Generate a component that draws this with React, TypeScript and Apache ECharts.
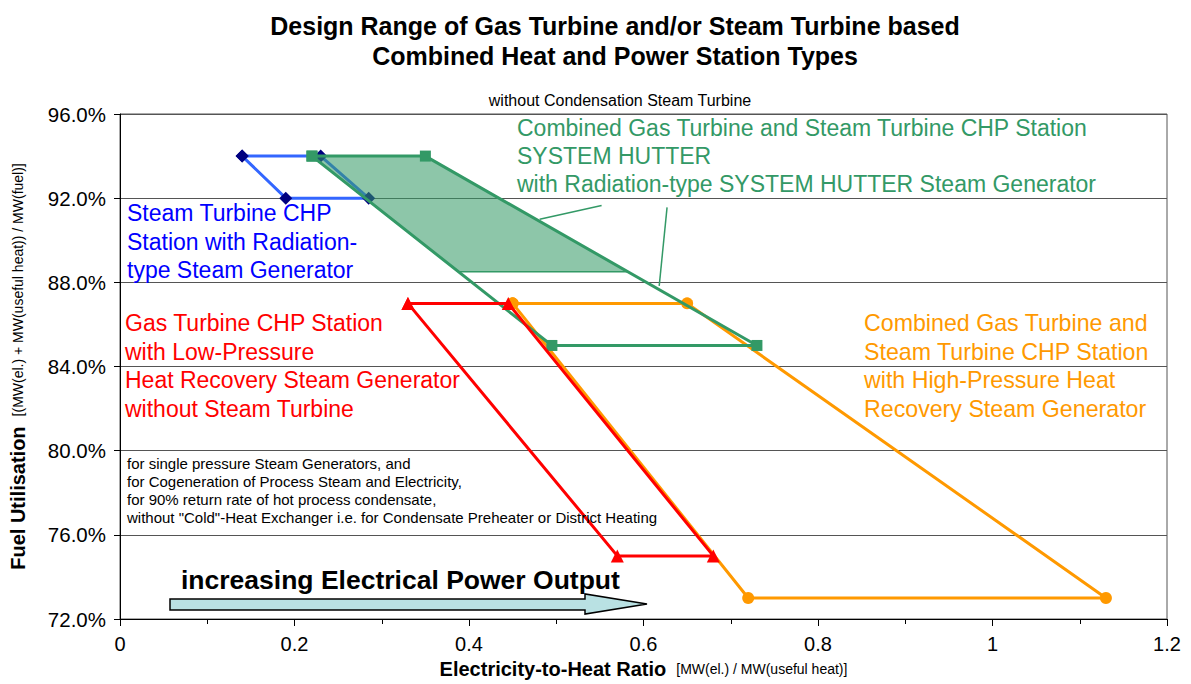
import React, { useEffect, useRef } from "react";
import * as echarts from "echarts";

const FONT = '"Liberation Sans", Arial, Helvetica, sans-serif';

// Steam Turbine CHP Station with Radiation-type Steam Generator
const steamX = [0.14, 0.23, 0.285, 0.19];
const steamY = [94, 94, 92, 92];
// Combined GT + ST CHP Station SYSTEM HUTTER
const hutterX = [0.22, 0.35, 0.73, 0.495];
const hutterY = [94, 94, 85, 85];
// Hatched area of SYSTEM HUTTER
const hutterAreaX = [0.22, 0.35, 0.582, 0.388];
const hutterAreaY = [94, 94, 88.5, 88.5];
// Gas Turbine CHP Station with Low-Pressure HRSG
const gasX = [0.33, 0.445, 0.68, 0.57];
const gasY = [87, 87, 75, 75];
// Combined GT + ST CHP Station with High-Pressure HRSG
const ccX = [0.45, 0.65, 1.13, 0.72];
const ccY = [87, 87, 73, 73];
// leader lines from green label
const leaderLines = [
  [[0.552, 91.65], [0.481, 91.0]],
  [[0.627, 91.56], [0.618, 87.83]],
];

const yTicks = { min: 72, max: 96, interval: 4 };
const xTicks = { min: 0, max: 1.2, interval: 0.2 };

const closed = (xs: number[], ys: number[]) => {
  const pts = xs.map((x, i) => [x, ys[i]]);
  pts.push([xs[0], ys[0]]);
  return pts;
};

const blueText = ["Steam Turbine CHP", "Station with Radiation-", "type Steam Generator"];
const redText = ["Gas Turbine CHP Station", "with Low-Pressure", "Heat Recovery Steam Generator", "without Steam Turbine"];
const orangeText = ["Combined Gas Turbine and", "Steam Turbine CHP Station", "with High-Pressure Heat", "Recovery Steam Generator"];
const greenText = ["Combined Gas Turbine and Steam Turbine CHP Station", "SYSTEM HUTTER", "with Radiation-type SYSTEM HUTTER Steam Generator"];
const noteText = [
  "for single pressure Steam Generators, and",
  "for Cogeneration of Process Steam and Electricity,",
  "for 90% return rate of hot process condensate,",
  'without "Cold"-Heat Exchanger i.e. for Condensate Preheater or District Heating',
];

export default function App() {
  const ref = useRef<HTMLDivElement>(null);
  useEffect(() => {
    if (!ref.current) return;
    const chart = echarts.init(ref.current, undefined, { renderer: "svg" });
    const areaData = hutterAreaX.map((x, i) => [x, hutterAreaY[i]]);
    const txt = (lines: string[], x: number, y: number, fill: string, size: number, lh: number, weight = "normal") => ({
      type: "text",
      x,
      y,
      z: 50,
      silent: true,
      style: {
        text: lines.join("\n"),
        fill,
        fontSize: size,
        fontFamily: FONT,
        fontWeight: weight,
        lineHeight: lh,
        align: "left",
        verticalAlign: "top",
      },
    });
    const nameRich = {
      b: { fontFamily: FONT, fontSize: 20, fontWeight: "bold", color: "#000" },
      s: { fontFamily: FONT, fontSize: 14, color: "#000" },
    };
    chart.setOption({
      animation: false,
      backgroundColor: "#fff",
      title: {
        text: "Design Range of Gas Turbine and/or Steam Turbine based\nCombined Heat and Power Station Types",
        left: 610,
        top: 6,
        textAlign: "center",
        textStyle: { fontFamily: FONT, fontSize: 25, fontWeight: "bold", color: "#000", lineHeight: 30 },
      },
      grid: { left: 120, right: 24, top: 114, bottom: 62, show: true, borderColor: "#555", borderWidth: 1 },
      xAxis: {
        type: "value",
        min: xTicks.min,
        max: xTicks.max,
        interval: xTicks.interval,
        name: "{b|Electricity-to-Heat Ratio}   {s|[MW(el.) / MW(useful heat)]}",
        nameLocation: "middle",
        nameGap: 40,
        nameTextStyle: { rich: nameRich },
        axisLine: { show: true, lineStyle: { color: "#000", width: 1 } },
        axisTick: { show: true, length: 7, lineStyle: { color: "#000" } },
        minorTick: { show: true, splitNumber: 2, length: 5, lineStyle: { color: "#000" } },
        splitLine: { show: false },
        axisLabel: {
          fontFamily: FONT,
          fontSize: 20,
          color: "#000",
          margin: 15,
          formatter: (v: number) => String(Math.round(v * 10) / 10),
        },
      },
      yAxis: {
        type: "value",
        min: yTicks.min,
        max: yTicks.max,
        interval: yTicks.interval,
        name: "{b|Fuel Utilisation}   {s|[(MW(el.) + MW(useful heat)) / MW(fuel)]}",
        nameLocation: "middle",
        nameRotate: 90,
        nameGap: 92,
        nameTextStyle: { rich: nameRich },
        axisLine: { show: true, lineStyle: { color: "#000", width: 1 } },
        axisTick: { show: true, length: 6, lineStyle: { color: "#000" } },
        splitLine: { show: true, lineStyle: { color: "#555", width: 1 } },
        axisLabel: {
          fontFamily: FONT,
          fontSize: 20.5,
          color: "#000",
          margin: 14,
          formatter: (v: number) => v.toFixed(1) + "%",
        },
      },
      series: [
        {
          name: "Steam Turbine CHP",
          type: "line",
          z: 2,
          data: closed(steamX, steamY),
          symbol: "diamond",
          symbolSize: 13,
          lineStyle: { color: "#3366ff", width: 3 },
          itemStyle: { color: "#000080" },
        },
        {
          name: "SYSTEM HUTTER area",
          type: "custom",
          z: 3,
          silent: true,
          data: areaData,
          renderItem: (params: any, api: any) => {
            if (params.dataIndex !== 0) return { type: "group", children: [] };
            return {
              type: "polygon",
              shape: { points: areaData.map((p) => api.coord(p)) },
              style: { fill: "rgba(51,153,102,0.56)", stroke: "#339966", lineWidth: 1.5 },
            };
          },
        },
        {
          name: "Combined HP HRSG",
          type: "line",
          z: 4,
          data: closed(ccX, ccY),
          symbol: "circle",
          symbolSize: 12,
          lineStyle: { color: "#ff9900", width: 3 },
          itemStyle: { color: "#ff9900" },
        },
        {
          name: "SYSTEM HUTTER",
          type: "line",
          z: 5,
          data: closed(hutterX, hutterY),
          symbol: "rect",
          symbolSize: 11,
          lineStyle: { color: "#339966", width: 3 },
          itemStyle: { color: "#339966" },
        },
        {
          name: "Gas Turbine CHP",
          type: "line",
          z: 6,
          data: closed(gasX, gasY),
          symbol: "triangle",
          symbolSize: 13,
          lineStyle: { color: "#ff0000", width: 3 },
          itemStyle: { color: "#ff0000" },
        },
        {
          name: "leaders",
          type: "lines",
          coordinateSystem: "cartesian2d",
          z: 7,
          silent: true,
          data: leaderLines.map((c) => ({ coords: c })),
          lineStyle: { color: "#339966", width: 1.5, opacity: 1 },
        },
      ],
      graphic: [
        {
          type: "text",
          x: 620,
          y: 100,
          silent: true,
          style: {
            text: "without Condensation Steam Turbine",
            fill: "#000",
            fontSize: 16,
            fontFamily: FONT,
            align: "center",
            verticalAlign: "middle",
          },
        },
        txt(blueText, 127, 199, "#0000ff", 23, 28.5),
        txt(redText, 125, 309, "#ff0000", 23, 28.5),
        txt(orangeText, 864, 309, "#ff9900", 23.2, 28.5),
        txt(greenText, 517, 114, "#339966", 23, 28),
        txt(noteText, 127, 454, "#000", 15, 18),
        txt(["increasing Electrical Power Output"], 181, 565, "#000", 26.5, 30, "bold"),
        {
          type: "polygon",
          z: 40,
          silent: true,
          shape: {
            points: [
              [170, 599],
              [585, 599],
              [585, 594],
              [647, 604],
              [585, 614],
              [585, 610],
              [170, 610],
            ],
          },
          style: { fill: "#b9e1e3", stroke: "#000", lineWidth: 1.5 },
        },
      ],
    });
    return () => chart.dispose();
  }, []);
  return <div ref={ref} style={{ position: "absolute", left: 0, top: 0, width: 1191, height: 684 }} />;
}
